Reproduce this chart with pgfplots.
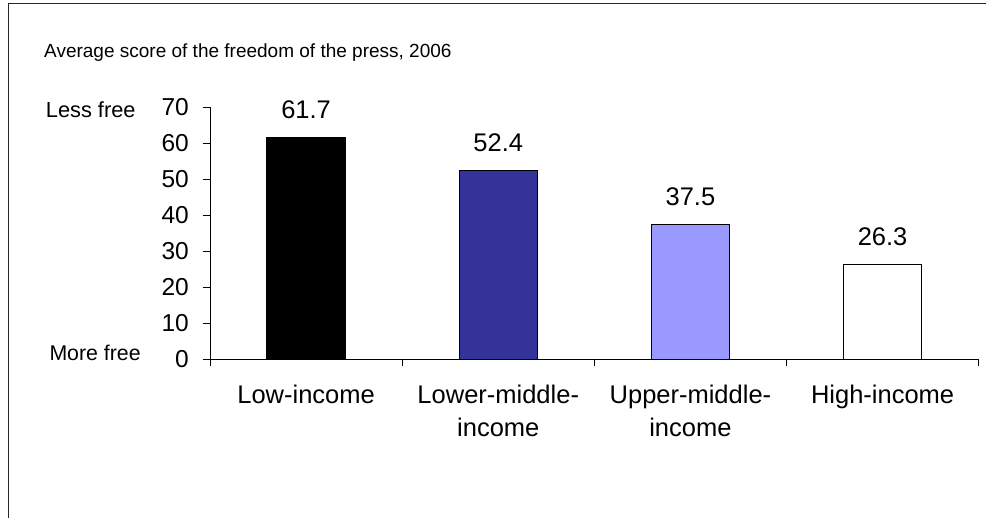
\documentclass[border=0pt]{standalone}
\usepackage{fontspec}
\setmainfont{Liberation Sans}
\usepackage{pgfplots}
\pgfplotsset{compat=1.18}
\definecolor{lowmid}{HTML}{333399}
\definecolor{upmid}{HTML}{9999FF}
\begin{document}
\begin{tikzpicture}[x=1pt,y=1pt]
\useasboundingbox (0,0) rectangle (986,-518);
% outer frame (top and left edges)
\draw[line width=1.6pt, black!85] (8.5,-518) -- (8.5,-3.5) -- (986,-3.5);
\node[anchor=base west, font=\fontsize{19}{23}\selectfont, inner sep=0pt] at (44,-58)
  {Average score of the freedom of the press, 2006};
\node[anchor=base west, font=\fontsize{21.8}{26}\selectfont, inner sep=0pt] at (45.7,-117.3) {Less free};
\node[anchor=base west, font=\fontsize{21.3}{26}\selectfont, inner sep=0pt] at (49.3,-361) {More free};
\begin{axis}[
  at={(210pt,-359.3pt)}, anchor=south west,
  scale only axis, width=768.7pt, height=252pt,
  xmin=-0.5, xmax=3.5, ymin=0, ymax=70,
  axis x line*=bottom, axis y line*=left,
  axis line style={-, black, line width=1pt},
  tick align=outside, major tick length=7pt,
  tick style={black, line width=1pt},
  ytick={0,10,...,70},
  /pgf/number format/assume math mode=true,
  yticklabel style={font=\fontsize{24.5}{28}\selectfont, anchor=east, inner sep=0pt, xshift=-14pt},
  xtick={-0.5,0.5,1.5,2.5,3.5}, xticklabels={},
  extra x ticks={0,1,2,3},
  extra x tick labels={Low-income,{Lower-middle-\\income},{Upper-middle-\\income},High-income},
  extra x tick style={major tick length=0pt,
    tick label style={font=\fontsize{25.5}{32.5}\selectfont, align=center, anchor=north, inner sep=0pt, yshift=-26pt}},
  ybar, bar width=78pt, bar shift=0pt,
  nodes near coords,
  nodes near coords style={font=\fontsize{25.5}{30}\selectfont, anchor=base, inner sep=0pt, yshift=18.7pt,
    /pgf/number format/.cd, fixed, fixed zerofill, precision=1, assume math mode=true},
  clip=false,
]
\addplot[fill=black, draw=black, line width=1.3pt] coordinates {(0,61.7)};
\addplot[fill=lowmid, draw=black, line width=1.3pt] coordinates {(1,52.4)};
\addplot[fill=upmid, draw=black, line width=1.3pt] coordinates {(2,37.5)};
\addplot[fill=white, draw=black, line width=1.3pt] coordinates {(3,26.3)};
\end{axis}
\end{tikzpicture}
\end{document}
